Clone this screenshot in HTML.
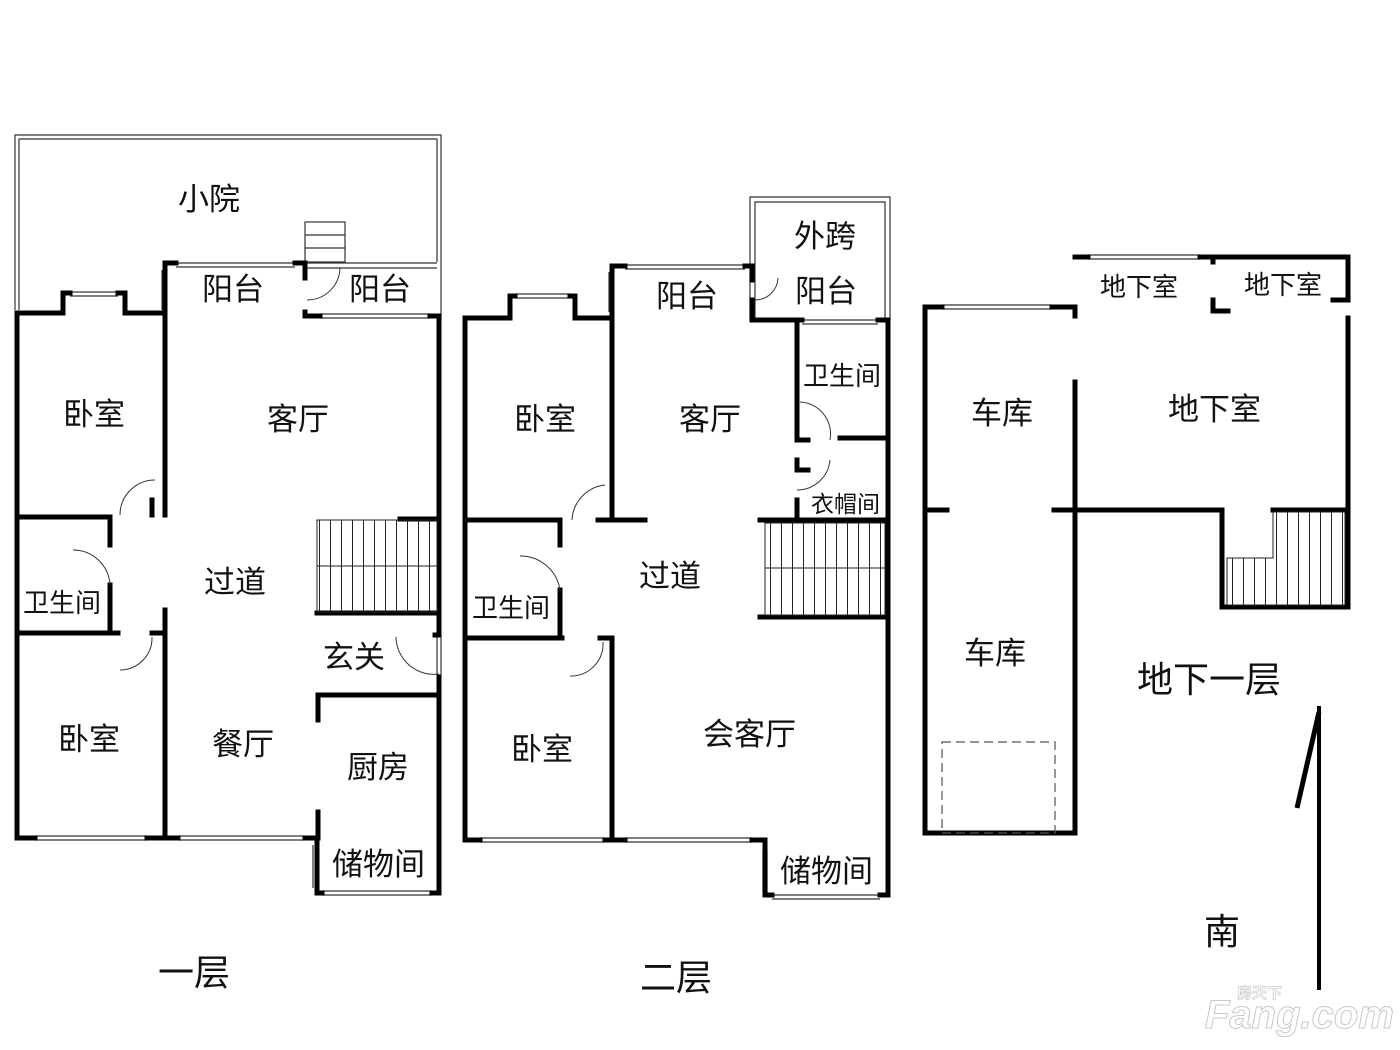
<!DOCTYPE html>
<html><head><meta charset="utf-8"><style>
html,body{margin:0;padding:0;background:#fff;}
svg{display:block;}
text{font-family:"Liberation Sans","Noto Sans CJK SC",sans-serif;fill:#111;}
</style></head><body>
<svg width="1400" height="1050" viewBox="0 0 1400 1050" xmlns="http://www.w3.org/2000/svg">
<defs>
<pattern id="st" x="0" y="0" width="11" height="200" patternUnits="userSpaceOnUse">
<line x1="0.5" y1="0" x2="0.5" y2="200" stroke="#222" stroke-width="1"/>
</pattern>
</defs>
<rect width="1400" height="1050" fill="#fff"/>

<!-- ============ PLAN 1 ============ -->
<g fill="none" stroke="#333" stroke-width="1.2">
<path d="M15,310 V135 H441 V316"/>
<path d="M19,310 V139 H437 V262"/>
<rect x="305" y="222" width="40" height="40"/>
<line x1="305" y1="235" x2="345" y2="235"/><line x1="305" y1="248" x2="345" y2="248"/>
<path d="M305,263 H437 M305,268 H437"/>
<path d="M176,263 H295 M176,267 H295"/>
<path d="M70,292 H118 M70,296 H118"/>
<path d="M162,270 V310 M166,270 V310"/>
<path d="M320,314 H430 M320,318 H430"/>
<path d="M35,836 H147 M35,840 H147"/>
<path d="M178,836 H305 M178,840 H305"/>
<path d="M313,845 V888 M317,845 V888"/>
<path d="M322,891 H432 M322,895 H432"/>
<path d="M437,635 V675 M441,635 V675"/>
</g>
<g fill="none" stroke="#000" stroke-width="5" stroke-linecap="square">
<path d="M17,838 V313 H63 V293 H70 M118,293 H125 V313 H163"/>
<path d="M165,515 V263 H176 M295,263 H305 V278"/>
<path d="M305,312 V316 H320 M430,316 H439 V633"/>
<path d="M439,677 V893 H432 M322,893 H317 V838"/>
<path d="M17,838 H35 M147,838 H178 M305,838 H318"/>
<path d="M165,610 V838"/>
<path d="M17,517 H110 V545 M110,585 V633 M17,633 H118 M152,633 H165"/>
<path d="M317,613 H439 M400,519 H439"/>
<path d="M318,720 V695 H439 M318,812 V838"/>
<path d="M152,500 V515 M435,635 H439"/>
</g>
<rect x="317" y="520" width="120" height="92" fill="url(#st)" stroke="#222" stroke-width="1"/>
<line x1="317" y1="566" x2="437" y2="566" stroke="#222" stroke-width="1"/>
<g fill="none" stroke="#333" stroke-width="1">
<path d="M120,515 A35,35 0 0 1 155,480"/>
<path d="M73,550 A37,37 0 0 1 110,585"/>
<path d="M120,670 A32,32 0 0 0 152,637"/>
<path d="M307,300 A33,33 0 0 0 340,268"/>
<path d="M396,637 A38,38 0 0 0 439,674"/>
</g>

<!-- ============ PLAN 2 ============ -->
<g fill="none" stroke="#333" stroke-width="1.2">
<path d="M750,320 V197 H890 V320"/>
<path d="M755,320 V202 H885 V320"/>
<path d="M625,265 H745 M625,269 H745"/>
<path d="M515,294 H570 M515,298 H570"/>
<path d="M609,272 V312 M613,272 V312"/>
<path d="M802,320 H878 M802,324 H878"/>
<path d="M480,838 H605 M480,842 H605"/>
<path d="M625,838 H752 M625,842 H752"/>
<path d="M763,850 V892 M767,850 V892"/>
<path d="M772,895 H880 M772,899 H880"/>
</g>
<g fill="none" stroke="#000" stroke-width="5" stroke-linecap="square">
<path d="M465,840 V318 H510 V296 H515 M570,296 H575 V318 H610"/>
<path d="M612,515 V266 H625 M745,266 H752 V280 M752,300 V320 H802 M878,320 H888 V895 H880"/>
<path d="M465,840 H480 M605,840 H625 M752,840 H765 V895 H772"/>
<path d="M612,640 V840"/>
<path d="M797,322 V440 H808 M797,460 V470 H808 M840,438 H888"/>
<path d="M465,520 H560 V545 M560,590 V636 M465,638 H562 M600,638 H612"/>
<path d="M598,520 H645 M760,520 H888 M760,617 H888 M797,500 V517"/>
</g>
<rect x="765" y="523" width="120" height="92" fill="url(#st)" stroke="#222" stroke-width="1"/>
<line x1="765" y1="568" x2="885" y2="568" stroke="#222" stroke-width="1"/>
<g fill="none" stroke="#333" stroke-width="1">
<path d="M572,520 A37,37 0 0 1 605,485"/>
<path d="M520,556 A40,40 0 0 1 560,590"/>
<path d="M570,676 A32,32 0 0 0 603,642"/>
<path d="M755,300 A23,23 0 0 0 778,278"/>
<path d="M800,402 A32,32 0 0 1 830,440"/>
<path d="M797,490 A33,33 0 0 0 830,460"/>
</g>

<!-- ============ PLAN 3 ============ -->
<g fill="none" stroke="#333" stroke-width="1.2">
<path d="M942,305 H1052 M942,309 H1052"/>
<path d="M1088,255 H1200 M1088,259 H1200"/>
</g>
<g fill="none" stroke="#000" stroke-width="5" stroke-linecap="square">
<path d="M925,833 V307 H942 M1052,307 H1075 V316 M1075,382 V833 H925"/>
<path d="M1075,257 H1088 M1200,257 H1348 V300 M1348,318 V607 H1222 V510 H1075"/>
<path d="M1213,257 V262 M1213,300 V311 H1228 M1333,300 H1348"/>
<path d="M925,510 H947 M1054,510 H1075"/>
<path d="M1273,510 H1348"/>
</g>
<path d="M1273,512 H1345 V605 H1227 V558 H1273 Z" fill="url(#st)" stroke="#222" stroke-width="1"/>
<line x1="1227" y1="558" x2="1273" y2="558" stroke="#222" stroke-width="1"/>
<rect x="942" y="742" width="113" height="91" fill="none" stroke="#555" stroke-width="1.2" stroke-dasharray="9,5"/>
<line x1="1319" y1="706" x2="1319" y2="990" stroke="#000" stroke-width="4"/>
<line x1="1319" y1="712" x2="1297" y2="808" stroke="#000" stroke-width="5"/>

<!-- ============ LABELS ============ -->
<g font-size="31">
<text x="178" y="210">小院</text>
<text x="202" y="300">阳台</text>
<text x="349" y="300">阳台</text>
<text x="63" y="425">卧室</text>
<text x="267" y="430">客厅</text>
<text x="204" y="593">过道</text>
<text x="323" y="668">玄关</text>
<text x="58" y="750">卧室</text>
<text x="212" y="755">餐厅</text>
<text x="347" y="778">厨房</text>
<text x="332" y="875">储物间</text>
<text x="794" y="247">外跨</text>
<text x="656" y="307">阳台</text>
<text x="795" y="302">阳台</text>
<text x="514" y="430">卧室</text>
<text x="679" y="430">客厅</text>
<text x="639" y="587">过道</text>
<text x="511" y="760">卧室</text>
<text x="703" y="745">会客厅</text>
<text x="780" y="882">储物间</text>
<text x="971" y="424">车库</text>
<text x="1168" y="420">地下室</text>
<text x="964" y="664">车库</text>
</g>
<g font-size="26">
<text x="23" y="612">卫生间</text>
<text x="472" y="617">卫生间</text>
<text x="803" y="385">卫生间</text>
<text x="1100" y="296">地下室</text>
<text x="1244" y="294">地下室</text>
</g>
<text x="811" y="512" font-size="23">衣帽间</text>
<g font-size="36">
<text x="158" y="985">一层</text>
<text x="640" y="990">二层</text>
<text x="1137" y="692">地下一层</text>
<text x="1204" y="944">南</text>
</g>
<text x="1205" y="1028" font-size="40" font-weight="bold" font-style="italic" style="fill:#fff;stroke:#c8c8c8;stroke-width:1">Fang.com</text>
<text x="1237" y="998" font-size="15" font-weight="bold" style="fill:#fff;stroke:#c8c8c8;stroke-width:0.7">房天下</text>
</svg>
</body></html>
